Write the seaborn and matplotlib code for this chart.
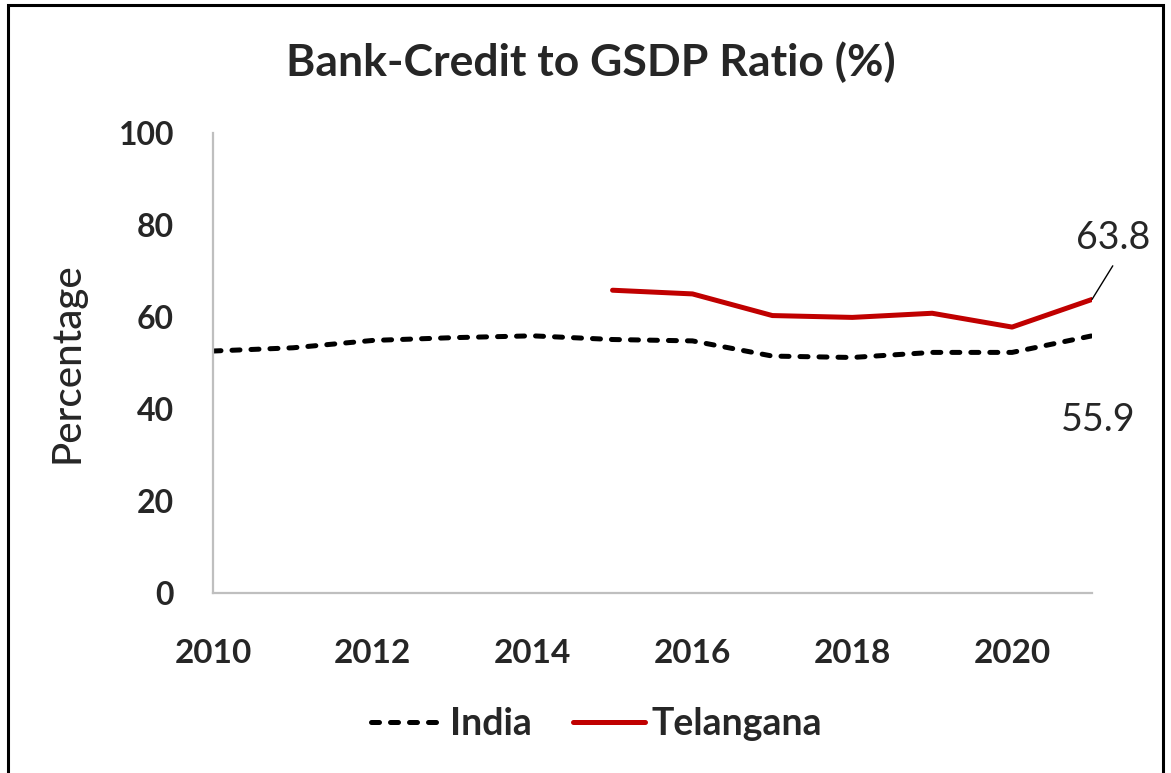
import numpy as np
import pandas as pd
import matplotlib
matplotlib.use("Agg")
import matplotlib.pyplot as plt
from matplotlib.patches import Rectangle
from matplotlib.lines import Line2D
import seaborn as sns

# Bank credit as a share of GSDP (%)
years_india = [2010, 2011, 2012, 2013, 2014, 2015, 2016, 2017, 2018, 2019, 2020, 2021]
india = [52.6, 53.3, 54.9, 55.5, 55.9, 55.1, 54.8, 51.5, 51.2, 52.3, 52.3, 55.9]

years_tg = [2015, 2016, 2017, 2018, 2019, 2020, 2021]
telangana = [65.8, 65.0, 60.3, 59.9, 60.8, 57.8, 63.8]

x_ticks = [2010, 2012, 2014, 2016, 2018, 2020]
y_ticks = [0, 20, 40, 60, 80, 100]

sns.set_theme(style="white")
plt.rcParams["font.family"] = ["Lato", "DejaVu Sans"]

W, H = 1171, 773
fig = plt.figure(figsize=(W / 100, H / 100), dpi=100)
ax = fig.add_axes([213 / W, 1 - 593.3 / H, 879 / W, 460.6 / H])

df_india = pd.DataFrame({"Year": years_india, "Value": india})
df_tg = pd.DataFrame({"Year": years_tg, "Value": telangana})

lw = 3.6
sns.lineplot(data=df_india, x="Year", y="Value", ax=ax, color="black",
             linewidth=lw, dashes=False)
ax.lines[-1].set_dashes((1.6, 2.2))
ax.lines[-1].set_dash_capstyle("round")
sns.lineplot(data=df_tg, x="Year", y="Value", ax=ax, color="#C00000",
             linewidth=lw)

ax.set_xlim(2010, 2021)
ax.set_ylim(0, 100)
ax.set_xticks(x_ticks)
ax.set_yticks(y_ticks)
ax.set_xticklabels([str(t) for t in x_ticks], fontsize=24, fontweight="bold")
ax.set_yticklabels([str(t) for t in y_ticks], fontsize=23, fontweight="bold")
ax.tick_params(axis="x", length=0, pad=33)
ax.tick_params(axis="y", length=0, pad=28)
ax.set_xlabel("")
ax.set_ylabel("Percentage", fontsize=29, fontweight="medium")
ax.yaxis.set_label_coords(-0.1456, 0.5)

for side in ["top", "right"]:
    ax.spines[side].set_visible(False)
for side in ["left", "bottom"]:
    ax.spines[side].set_color("#BFBFBF")
    ax.spines[side].set_linewidth(1.6)

# End-point value labels with a leader line for Telangana
ax.annotate("", xy=(years_tg[-1], telangana[-1]), xytext=(2021.26, 71.1),
            textcoords="data", annotation_clip=False,
            arrowprops=dict(arrowstyle="-", color="black", lw=1.0,
                            shrinkA=0, shrinkB=0))
ax.text(2021.26, 77.2, f"{telangana[-1]:.1f}", ha="center", va="center",
        fontsize=27, clip_on=False)
ax.text(2021.08, 37.6, f"{india[-1]:.1f}", ha="center", va="center",
        fontsize=27, clip_on=False)

# Title
fig.text(591 / W, 1 - 62 / H, "Bank-Credit to GSDP Ratio (%)",
         ha="center", va="center", fontsize=32, fontweight="bold")

# Legend
handles = [
    Line2D([], [], color="black", linewidth=lw, dashes=(1.6, 2.2),
           dash_capstyle="round"),
    Line2D([], [], color="#C00000", linewidth=lw),
]
fig.legend(handles, ["India", "Telangana"], loc="center",
           bbox_to_anchor=(597 / W, 1 - 724 / H), ncol=2, frameon=False,
           prop={"size": 27, "weight": "bold"}, handlelength=1.9,
           handletextpad=0.2, columnspacing=1.1)

# Chart border
fig.patches.append(Rectangle((8 / W, -0.05), (1163 - 8) / W, 1.05 - 5 / H,
                             transform=fig.transFigure, fill=False,
                             edgecolor="black", linewidth=2.2))

fig.savefig("out.png", dpi=100)
